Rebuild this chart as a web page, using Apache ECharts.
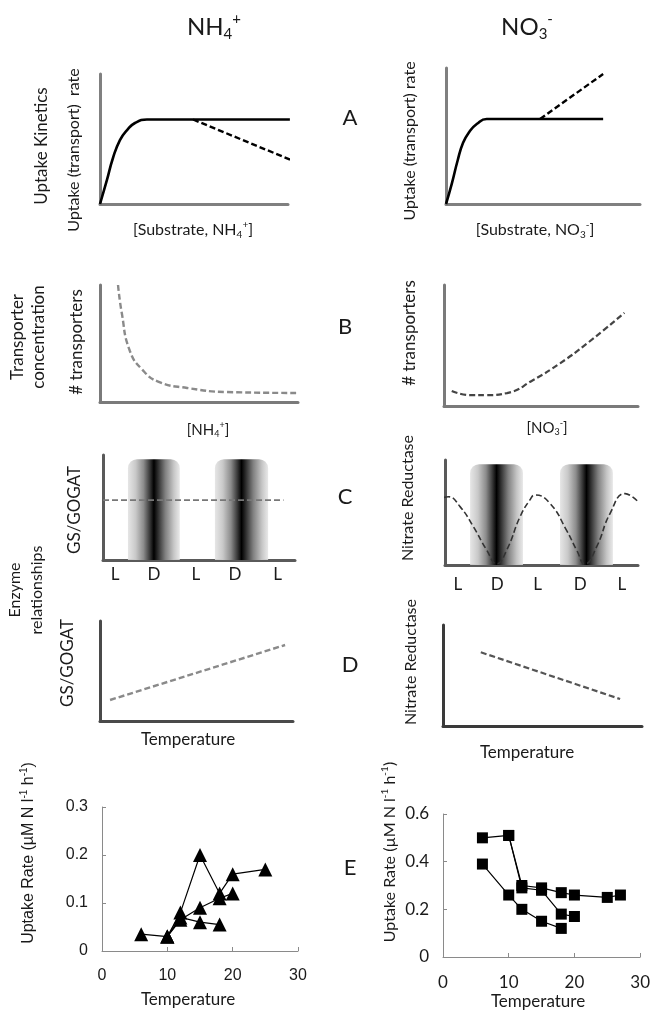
<!DOCTYPE html>
<html><head><meta charset="utf-8">
<script src="https://cdn.jsdelivr.net/npm/echarts@6/dist/echarts.min.js"></script>
<style>html,body{margin:0;padding:0;background:#fff}#c{width:653px;height:1012px}</style>
</head><body><div id="c"></div>
<script>
// ---- data (conceptual panels in % of axis extent) ----
const aLeftSolid = [[0,0],[3.7,18.5],[6.9,35.4],[10.6,49.2],[14.4,56.9],[18.6,62.3],[25,65],[101,65]];
const aLeftDash = [[49.5,65],[103,33]];
const aRightSolid = [[0,0],[3,15],[6,32],[8.8,45],[12,53],[16,59],[21,62.5],[81,62.5]];
const aRightDash = [[48.5,62.5],[81,95.6]];
const bLeft = [[9.1,100],[11,76],[15,44],[21.7,27],[30,17],[44,12],[64,8.5],[100,7.7]];
const bRight = [[4,12.4],[13.4,9],[22,9],[32.5,10.7],[46,21.5],[60,35.5],[74,52],[93,77]];
const cLeftLine = [[0,57],[94,57]];
const cBandsLeft = [[13,40,96],[58.3,86,96]];
const cBandsRight = [[13,40.4,96],[59.6,87,96]];
const cTickLeft = [6.25,26.6,48.4,68.75,91];
const cTickRight = [6.7,27,48,70,91.7];
const cTickLabels = ['L','D','L','D','L'];
const cRightCurve = [[-0.5,64.4],[1.7,65],[7.8,55.6],[14.7,36.5],[21.6,14.3],[26.8,1],[32,14.3],[38.9,46],[44,62],[46.6,66.7],[54.4,58.7],[63,33],[68.2,14.3],[72.5,1],[78.6,17.5],[85.5,49],[93.3,68],[100.2,60]];
const dLeft = [[5.2,21],[95.9,76]];
const dRight = [[19,73],[89,26.7]];
// ---- data (measured panels E) ----
const eNH4a = [[6,0.035],[10,0.03],[12,0.08],[15,0.2],[18,0.12],[20,0.16],[25,0.17]];
const eNH4b = [[10,0.03],[12,0.065],[15,0.09],[18,0.11],[20,0.12]];
const eNH4c = [[10,0.03],[12,0.07],[15,0.06],[18,0.055]];
const eNO3a = [[6,0.5],[10,0.51],[12,0.3],[15,0.29],[18,0.27],[20,0.26],[25,0.25],[27,0.26]];
const eNO3b = [[10,0.51],[12,0.29],[15,0.28],[18,0.18],[20,0.17]];
const eNO3c = [[6,0.39],[10,0.26],[12,0.2],[15,0.15],[18,0.12]];

const chart = echarts.init(document.getElementById('c'));
const F = 'Lato, "Open Sans", sans-serif';
const ARIAL = '"Liberation Sans", Arial, sans-serif';
const TXT = '#1a1a1a';

const grids = [
  {left:100, top:74, width:188, height:130},
  {left:446, top:68, width:194, height:136},
  {left:100, top:285, width:198, height:117},
  {left:444, top:285, width:194, height:121},
  {left:103, top:455, width:192, height:105},
  {left:445, top:460, width:193, height:105},
  {left:100, top:621, width:193, height:100},
  {left:443, top:625, width:199, height:101},
  {left:102, top:807, width:196, height:144},
  {left:443, top:814, width:198, height:143}
];
function conceptAxis(i, color){
  return {gridIndex:i, type:'value', min:0, max:100, axisLine:{show:true, onZero:false, lineStyle:{color:color, width:3}},
    axisTick:{show:false}, axisLabel:{show:false}, splitLine:{show:false}};
}
const axisColors = ['#808080','#808080','#7a7a7a','#7a7a7a','#5a5a5a','#5a5a5a','#4a4a4a','#3a3a3a'];
const xAxes = [], yAxes = [];
for (let i=0;i<8;i++){ xAxes.push(conceptAxis(i, axisColors[i])); yAxes.push(conceptAxis(i, axisColors[i])); }
xAxes[4].axisLabel = {show:true, customValues:cTickLeft, margin:6, fontFamily:F, fontSize:17, color:TXT,
  formatter:(v)=>cTickLabels[cTickLeft.indexOf(v)] || ''};
xAxes[5].axisLabel = {show:true, customValues:cTickRight, margin:11, fontFamily:F, fontSize:17, color:TXT,
  formatter:(v)=>cTickLabels[cTickRight.indexOf(v)] || ''};
// E axes
function eAxis(i, max, interval, margin, family, size){
  return {gridIndex:i, type:'value', min:0, max:max, interval:interval, axisLine:{show:true, onZero:false, lineStyle:{color:'#8a8a8a', width:1}},
    axisTick:{show:true, inside:true, length:4, lineStyle:{color:'#8a8a8a'}}, splitLine:{show:false},
    axisLabel:{margin:margin, fontFamily:family, fontSize:size, color:TXT}};
}
xAxes.push(eAxis(8, 30, 10, 17, ARIAL, 16));
yAxes.push(eAxis(8, 0.3, 0.1, 14, ARIAL, 16));
xAxes.push(eAxis(9, 30, 10, 17, F, 17));
yAxes.push(eAxis(9, 0.6, 0.2, 14, F, 17));

function line(i, data, color, width, dashed, smooth){
  return {type:'line', xAxisIndex:i, yAxisIndex:i, data:data, symbol:'none', smooth:smooth||false, clip:false,
    lineStyle:{color:color, width:width, type: dashed ? [6,3] : 'solid'}, z:5, animation:false};
}
function bands(i, data){
  return {type:'custom', xAxisIndex:i, yAxisIndex:i, data:data, z:2, animation:false,
    renderItem:(params, api)=>{
      const p0 = api.coord([api.value(0), api.value(2)]);
      const p1 = api.coord([api.value(1), 0]);
      return {type:'rect', shape:{x:p0[0], y:p0[1], width:p1[0]-p0[0], height:p1[1]-p0[1], r:[9,9,0,0]},
        style:{fill:new echarts.graphic.LinearGradient(0,0,1,0,[
          {offset:0, color:'rgba(225,225,225,0.85)'},{offset:0.15, color:'#c8c8c8'},{offset:0.3, color:'#8c8c8c'},{offset:0.42, color:'#3a3a3a'},
          {offset:0.5, color:'#000'},{offset:0.58, color:'#2e2e2e'},{offset:0.72, color:'#808080'},{offset:0.88, color:'#c4c4c4'},{offset:1, color:'rgba(228,228,228,0.85)'}])}};
    }};
}
function pts(i, data, symbol, size){
  return {type:'line', xAxisIndex:i, yAxisIndex:i, data:data, symbol:symbol, symbolSize:size, showSymbol:true,
    lineStyle:{color:'#000', width:1.2}, itemStyle:{color:'#000'}, z:5, animation:false};
}
const series = [
  line(0, aLeftSolid, '#000', 2.6, false, 0.5),
  line(0, aLeftDash, '#000', 2.4, true),
  line(1, aRightSolid, '#000', 2.6, false, 0.5),
  line(1, aRightDash, '#000', 2.4, true),
  line(2, bLeft, '#8a8a8a', 2.4, true, 0.5),
  line(3, bRight, '#444', 2.2, true, 0.5),
  bands(4, cBandsLeft),
  line(4, cLeftLine, '#777', 1.8, true),
  bands(5, cBandsRight),
  line(5, cRightCurve, '#333', 1.6, true, 0.5),
  line(6, dLeft, '#8a8a8a', 2.4, true),
  line(7, dRight, '#555', 2.2, true),
  pts(8, eNH4a, 'triangle', 14), pts(8, eNH4b, 'triangle', 14), pts(8, eNH4c, 'triangle', 14),
  pts(9, eNO3a, 'rect', 11), pts(9, eNO3b, 'rect', 11), pts(9, eNO3c, 'rect', 11)
];

function T(x, y, text, size, rot, rich, family){
  const st = {text:text, fontSize:size, fontFamily:family||F, fill:TXT, align:'center', verticalAlign:'middle'};
  if (rich) st.rich = rich;
  return {type:'text', x:x, y:y, rotation: rot ? Math.PI/2 : 0, style:st, z:10};
}
function ionRich(size, lh){
  return {n:{fontSize:size, fontFamily:F, color:TXT, lineHeight:lh},
    sub:{fontSize:Math.round(size*0.62), fontFamily:F, color:TXT, verticalAlign:'bottom', lineHeight:Math.round(size*0.7)},
    sup:{fontSize:Math.round(size*0.62), fontFamily:F, color:TXT, verticalAlign:'top', lineHeight:Math.round(size*0.7)}};
}
function eRich(fam, size){
  return {n:{fontSize:size, fontFamily:fam, color:TXT, lineHeight:20},
    sup:{fontSize:Math.round(size*0.62), fontFamily:fam, color:TXT, verticalAlign:'top', lineHeight:11}};
}
const graphic = [
  T(214, 27, '{n|NH}{sub|4}{sup|+}', 24, false, ionRich(24, 30)),
  T(527, 27, '{n|NO}{sub|3}{sup|-}', 24, false, ionRich(24, 30)),
  T(350, 118, 'A', 22), T(345, 327, 'B', 22), T(345, 497, 'C', 22), T(350, 665, 'D', 22), T(350, 868, 'E', 22),
  T(42, 146, 'Uptake Kinetics', 17, true),
  T(74, 150, 'Uptake (transport)  rate', 16, true),
  T(193, 230, '{n|[Substrate, NH}{sub|4}{sup|+}{n|]}', 16, false, ionRich(16, 20)),
  T(410, 141, 'Uptake (transport) rate', 16, true),
  T(535, 230, '{n|[Substrate, NO}{sub|3}{sup|-}{n|]}', 16, false, ionRich(16, 20)),
  T(18, 337, 'Transporter', 17, true), T(39, 337, 'concentration', 17, true),
  T(77, 342, '# transporters', 17, true), T(410, 333, '# transporters', 17, true),
  T(208, 430, '{n|[NH}{sub|4}{sup|+}{n|]}', 15, false, ionRich(15, 18)),
  T(547, 428, '{n|[NO}{sub|3}{sup|-}{n|]}', 15, false, ionRich(15, 18)),
  T(75, 510, 'GS/GOGAT', 17, true), T(408, 498, 'Nitrate Reductase', 16, true),
  T(15, 590, 'Enzyme', 16, true), T(37, 590, 'relationships', 16, true),
  T(68, 663, 'GS/GOGAT', 17, true), T(411, 662, 'Nitrate Reductase', 16, true),
  T(188, 740, 'Temperature', 17), T(527, 753, 'Temperature', 17),
  T(29, 853, '{n|Uptake Rate (µM N l}{sup|-1}{n| h}{sup|-1}{n|)}', 16, true, eRich(ARIAL, 16), ARIAL),
  T(390, 852, '{n|Uptake Rate (µM N l}{sup|-1}{n| h}{sup|-1}{n|)}', 16, true, eRich(F, 16)),
  T(188, 1000, 'Temperature', 17), T(538, 1002, 'Temperature', 17)
];

chart.setOption({animation:false, backgroundColor:'#fff', grid:grids, xAxis:xAxes, yAxis:yAxes, series:series, graphic:graphic});
</script></body></html>
